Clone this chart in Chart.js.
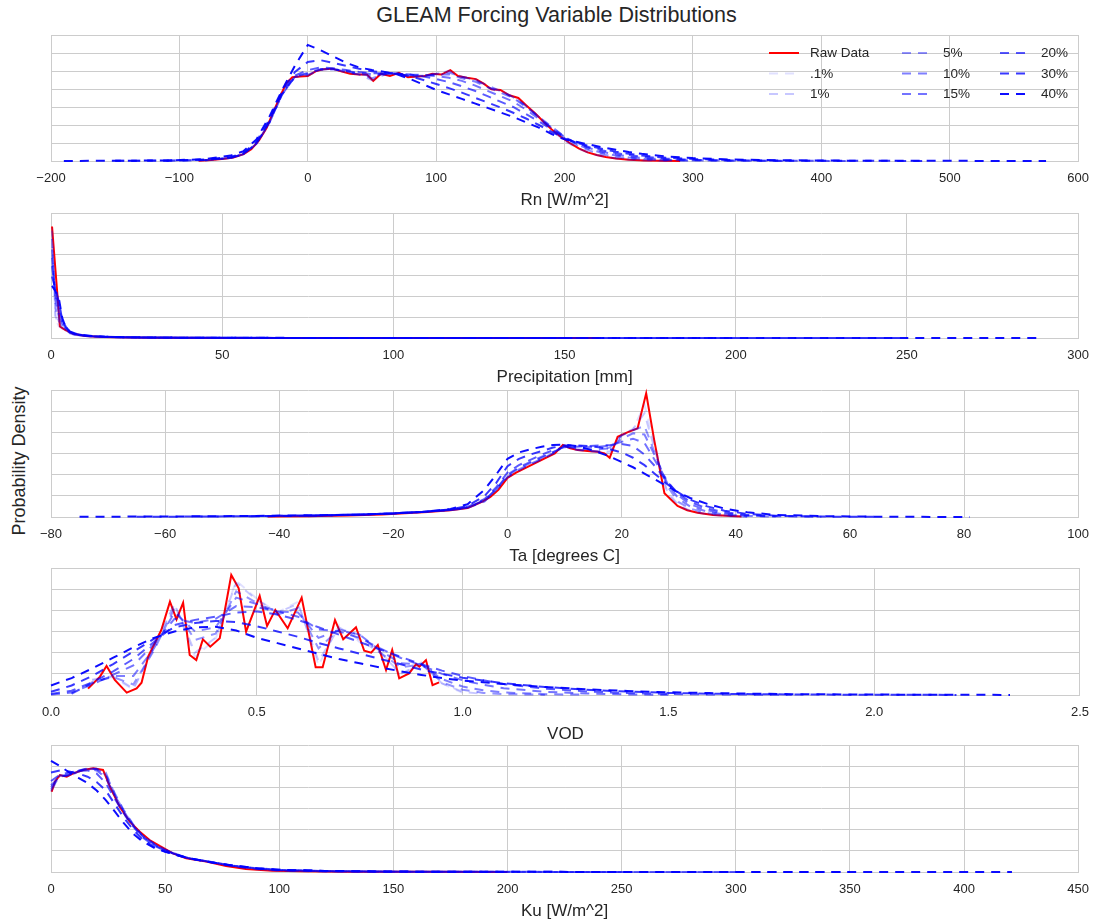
<!DOCTYPE html>
<html>
<head>
<meta charset="utf-8">
<title>GLEAM Forcing Variable Distributions</title>
<script src="https://cdn.jsdelivr.net/npm/chart.js@4/dist/chart.umd.min.js"></script>
<style>
  html, body { margin: 0; padding: 0; background: #ffffff; }
  #wrap { position: relative; width: 1099px; height: 924px; overflow: hidden;
          font-family: "Liberation Sans", Arial, sans-serif; color: #262626; }
  #wrap canvas { position: absolute; left: 0; }
  #title { position: absolute; left: 0; width: 1113px; top: 2px; text-align: center;
           font-size: 21.5px; line-height: 26px; white-space: nowrap; }
  #ylab { position: absolute; left: -131px; top: 449px; width: 300px; height: 24px;
          line-height: 24px; text-align: center; font-size: 18px; white-space: nowrap;
          transform: rotate(-90deg); transform-origin: 50% 50%; }
</style>
</head>
<body>
<div id="wrap">
  <div id="title">GLEAM Forcing Variable Distributions</div>
  <div id="ylab">Probability Density</div>
</div>
<script>
// ---------------------------------------------------------------------------
// Series names (raw histogram + the perturbed versions of each forcing)
// ---------------------------------------------------------------------------
const seriesLabels = ['Raw Data', '.1%', '1%', '5%', '10%', '15%', '20%', '30%', '40%'];

// Densities below are relative probability densities (one unit = one grid step).

// --- Rn [W/m^2] ------------------------------------------------------------
const rnRawX = [-85, -75, -65, -58, -50, -44, -38, -32, -27, -22, -17, -12, -6, 0, 6, 12, 19, 26, 33, 40,
                46, 51, 57, 64, 71, 78, 85, 91, 97, 104, 111, 117, 124, 131, 137, 143, 150, 157, 164, 170,
                177, 184, 190, 197, 204, 211, 218, 225, 232, 240, 250, 262, 275, 290];
const rnRaw  = [0.02, 0.05, 0.12, 0.2, 0.38, 0.65, 1.15, 1.85, 2.7, 3.5, 4.3, 4.65, 4.7, 4.72, 4.98, 5.1, 5.13, 4.98, 4.85, 4.8,
                4.8, 4.45, 4.85, 4.72, 4.9, 4.65, 4.7, 4.72, 4.85, 4.8, 5.05, 4.72, 4.62, 4.55, 4.3, 3.98, 3.95, 3.65, 3.5, 3.1,
                2.65, 2.15, 1.75, 1.35, 1.0, 0.7, 0.48, 0.33, 0.22, 0.14, 0.07, 0.03, 0.01, 0.0];
const rnX    = [-190, -150, -110, -80, -60, -50, -40, -30, -20, -10,
                0, 10, 20, 30, 40, 50, 60, 70, 80, 90, 100, 110, 120, 130, 140, 150, 160, 170, 180, 190,
                200, 210, 220, 230, 240, 250, 260, 280, 300, 330, 370, 420, 480, 530, 575];
const rnP01  = [null, null, null, 0.03, 0.17, 0.38, 0.95, 2.1, 3.7, 4.68,
                4.73, 5.08, 5.12, 4.9, 4.8, 4.48, 4.8, 4.9, 4.66, 4.72, 4.82, 5.02, 4.68, 4.56, 4.08, 3.94, 3.55, 3.1, 2.4, 1.72,
                1.12, 0.7, 0.4, 0.24, 0.14, 0.07, 0.03, 0.01, null, null, null, null, null, null, null];
const rnP1   = [null, null, null, 0.03, 0.17, 0.38, 0.95, 2.1, 3.7, 4.68,
                4.75, 5.08, 5.12, 4.92, 4.8, 4.5, 4.8, 4.88, 4.68, 4.72, 4.82, 5.0, 4.68, 4.55, 4.1, 3.92, 3.55, 3.08, 2.4, 1.72,
                1.15, 0.72, 0.43, 0.26, 0.15, 0.08, 0.04, 0.01, null, null, null, null, null, null, null];
const rnP5   = [null, null, null, 0.04, 0.17, 0.38, 0.95, 2.1, 3.7, 4.68,
                4.8, 5.08, 5.12, 4.95, 4.82, 4.6, 4.82, 4.85, 4.72, 4.75, 4.85, 4.92, 4.68, 4.5, 4.2, 3.88, 3.55, 3.05, 2.45, 1.82,
                1.28, 0.85, 0.56, 0.36, 0.22, 0.13, 0.08, 0.03, 0.01, null, null, null, null, null, null];
const rnP10  = [null, null, 0.02, 0.05, 0.17, 0.38, 0.96, 2.12, 3.7, 4.68,
                4.85, 5.08, 5.1, 4.98, 4.85, 4.7, 4.85, 4.85, 4.75, 4.76, 4.8, 4.82, 4.6, 4.42, 4.1, 3.8, 3.5, 3.0, 2.45, 1.9,
                1.35, 0.92, 0.64, 0.44, 0.3, 0.2, 0.13, 0.06, 0.03, 0.01, null, null, null, null, null];
const rnP15  = [null, null, 0.02, 0.05, 0.17, 0.4, 0.98, 2.15, 3.7, 4.7,
                4.9, 5.1, 5.1, 5.0, 4.9, 4.82, 4.85, 4.85, 4.8, 4.78, 4.72, 4.62, 4.45, 4.2, 3.9, 3.6, 3.3, 2.85, 2.35, 1.85,
                1.35, 0.95, 0.7, 0.5, 0.36, 0.25, 0.17, 0.08, 0.04, 0.015, 0.005, null, null, null, null];
const rnP20  = [null, 0.01, 0.02, 0.06, 0.19, 0.41, 1.0, 2.2, 3.75, 4.75,
                5.05, 5.2, 5.15, 5.05, 4.95, 4.88, 4.88, 4.85, 4.8, 4.7, 4.55, 4.38, 4.15, 3.9, 3.6, 3.3, 3.0, 2.6, 2.2, 1.75,
                1.3, 0.98, 0.75, 0.58, 0.44, 0.33, 0.24, 0.13, 0.07, 0.03, 0.01, 0.005, null, null, null];
const rnP30  = [null, 0.01, 0.03, 0.08, 0.22, 0.45, 1.08, 2.3, 3.85, 4.95,
                5.5, 5.6, 5.45, 5.28, 5.12, 4.98, 4.92, 4.85, 4.7, 4.5, 4.28, 4.05, 3.8, 3.52, 3.25, 2.98, 2.68, 2.36, 2.0, 1.62,
                1.25, 1.0, 0.82, 0.66, 0.52, 0.4, 0.3, 0.18, 0.11, 0.05, 0.02, 0.01, 0.005, null, null];
const rnP40  = [0.005, 0.01, 0.03, 0.1, 0.3, 0.55, 1.2, 2.45, 3.95, 5.3,
                6.45, 6.15, 5.8, 5.45, 5.2, 5.05, 4.95, 4.8, 4.55, 4.25, 3.95, 3.7, 3.45, 3.2, 2.95, 2.7, 2.45, 2.15, 1.85, 1.5,
                1.2, 1.05, 0.9, 0.75, 0.62, 0.5, 0.4, 0.25, 0.16, 0.08, 0.04, 0.02, 0.01, 0.006, 0.004];

// --- Precipitation [mm] ------------------------------------------------------
const prRawX = [0.3, 2.6, 4, 6.5, 10, 15, 20, 30, 50, 80, 120, 160];
const prRaw  = [5.35, 0.55, 0.4, 0.2, 0.1, 0.05, 0.03, 0.015, 0.006, 0.003, 0.002, 0.001];
const prX    = [0.3, 1.3, 2.3, 3.3, 4.3, 5.5, 7, 9, 12, 16, 20, 25, 30, 40, 50, 70, 100, 150, 200, 250, 288];
const prP01  = [5.3, 0.9, 0.56, 0.44, 0.34, 0.21, 0.145, 0.1, 0.07, 0.047, 0.031, 0.021, 0.014, 0.007, 0.004, 0.002, null, null, null, null, null];
const prP1   = [5.15, 1.05, 0.62, 0.5, 0.36, 0.22, 0.15, 0.105, 0.072, 0.048, 0.032, 0.022, 0.015, 0.008, 0.004, 0.002, 0.001, null, null, null, null];
const prP5   = [4.75, 1.45, 0.8, 0.6, 0.4, 0.24, 0.16, 0.11, 0.075, 0.05, 0.034, 0.024, 0.016, 0.009, 0.005, 0.003, 0.001, null, null, null, null];
const prP10  = [4.25, 1.85, 1.0, 0.66, 0.44, 0.26, 0.17, 0.115, 0.078, 0.052, 0.036, 0.026, 0.018, 0.01, 0.006, 0.003, 0.002, 0.001, null, null, null];
const prP15  = [3.85, 2.05, 1.2, 0.72, 0.48, 0.27, 0.18, 0.12, 0.08, 0.054, 0.038, 0.027, 0.019, 0.011, 0.007, 0.004, 0.002, 0.001, null, null, null];
const prP20  = [3.45, 2.2, 1.45, 0.78, 0.52, 0.28, 0.19, 0.13, 0.085, 0.056, 0.04, 0.028, 0.02, 0.012, 0.008, 0.005, 0.003, 0.002, 0.001, null, null];
const prP30  = [2.95, 2.35, 1.75, 0.85, 0.55, 0.3, 0.2, 0.14, 0.09, 0.06, 0.042, 0.03, 0.022, 0.014, 0.009, 0.005, 0.003, 0.002, 0.001, 0.001, null];
const prP40  = [2.5, 2.25, 1.9, 0.95, 0.5, 0.32, 0.22, 0.15, 0.1, 0.065, 0.045, 0.032, 0.024, 0.015, 0.01, 0.006, 0.004, 0.002, 0.001, 0.001, 0.001];

// --- Ta [degrees C] ----------------------------------------------------------
const taRawX = [-42, -35, -28, -22, -18, -14, -10, -7, -4.5, -3, -1.6, 0, 1.5, 3, 4.5, 6, 8.3, 9.7, 11, 12.3,
                14, 15.8, 17, 17.9, 19.3, 21, 22.8, 24.3, 25.7, 27.5, 29.8, 31.5, 33.3, 36, 38.5, 41];
const taRaw  = [0.02, 0.04, 0.07, 0.12, 0.18, 0.24, 0.32, 0.42, 0.72, 0.95, 1.28, 1.85, 2.1, 2.3, 2.5, 2.7, 3.0, 3.4, 3.25, 3.16,
                3.12, 3.08, 3.0, 2.8, 3.79, 4.0, 4.19, 5.84, 3.64, 1.12, 0.52, 0.32, 0.2, 0.1, 0.06, 0.02];
const taX    = [-75, -65, -55, -45, -35, -25, -20, -15, -10, -7, -4, -2,
                0, 2, 4, 6, 8, 10, 12, 14, 16, 18, 20, 22, 24, 26, 28, 30, 32,
                35, 38, 42, 47, 55, 65, 75, 81];
const taP01  = [null, null, null, null, 0.04, 0.12, 0.17, 0.24, 0.32, 0.42, 0.73, 1.28,
                1.86, 2.18, 2.5, 2.7, 3.0, 3.4, 3.17, 3.1, 3.08, 3.0, 3.85, 4.15, 5.3, 3.2, 1.1, 0.5, 0.28,
                0.12, 0.05, 0.01, null, null, null, null, null];
const taP1   = [null, null, null, null, 0.04, 0.12, 0.17, 0.24, 0.32, 0.42, 0.74, 1.28,
                1.87, 2.2, 2.5, 2.72, 3.0, 3.38, 3.18, 3.12, 3.08, 3.1, 3.9, 4.15, 4.9, 3.0, 1.2, 0.55, 0.3,
                0.13, 0.05, 0.01, null, null, null, null, null];
const taP5   = [null, null, null, null, 0.05, 0.12, 0.17, 0.24, 0.32, 0.43, 0.75, 1.3,
                1.9, 2.25, 2.5, 2.75, 3.02, 3.35, 3.2, 3.14, 3.1, 3.3, 3.85, 4.1, 4.3, 2.9, 1.45, 0.7, 0.4,
                0.18, 0.08, 0.02, null, null, null, null, null];
const taP10  = [null, null, null, 0.03, 0.06, 0.12, 0.17, 0.24, 0.33, 0.44, 0.78, 1.3,
                1.95, 2.3, 2.55, 2.8, 3.05, 3.32, 3.25, 3.2, 3.2, 3.25, 3.7, 3.95, 3.9, 2.8, 1.6, 0.85, 0.5,
                0.25, 0.12, 0.05, 0.01, null, null, null, null];
const taP15  = [null, null, null, 0.03, 0.06, 0.12, 0.17, 0.24, 0.33, 0.45, 0.8, 1.3,
                2.0, 2.35, 2.6, 2.85, 3.08, 3.3, 3.3, 3.3, 3.32, 3.38, 3.55, 3.7, 3.5, 2.6, 1.7, 1.0, 0.6,
                0.32, 0.16, 0.07, 0.02, null, null, null, null];
const taP20  = [null, null, 0.02, 0.04, 0.07, 0.12, 0.17, 0.24, 0.34, 0.48, 0.85, 1.4,
                2.1, 2.45, 2.7, 2.95, 3.15, 3.3, 3.32, 3.35, 3.38, 3.4, 3.45, 3.35, 2.95, 2.35, 1.65, 1.1, 0.72,
                0.4, 0.22, 0.1, 0.04, 0.01, null, null, null];
const taP30  = [null, 0.01, 0.02, 0.04, 0.07, 0.12, 0.17, 0.24, 0.36, 0.52, 1.0, 1.6,
                2.4, 2.75, 2.95, 3.12, 3.28, 3.38, 3.38, 3.35, 3.3, 3.2, 3.05, 2.8, 2.45, 2.0, 1.55, 1.15, 0.82,
                0.5, 0.3, 0.15, 0.06, 0.02, 0.005, null, null];
const taP40  = [0.01, 0.02, 0.03, 0.05, 0.08, 0.12, 0.17, 0.24, 0.38, 0.6, 1.3, 2.0,
                2.75, 3.05, 3.2, 3.32, 3.4, 3.42, 3.35, 3.22, 3.05, 2.85, 2.6, 2.35, 2.05, 1.75, 1.45, 1.15, 0.9,
                0.62, 0.4, 0.22, 0.1, 0.04, 0.015, 0.005, 0.003];

// --- VOD ---------------------------------------------------------------------
const vodRawX = [0.09, 0.119, 0.135, 0.155, 0.184, 0.208, 0.22, 0.236, 0.268, 0.289, 0.305, 0.321, 0.337, 0.353,
                 0.369, 0.387, 0.41, 0.438, 0.456, 0.474, 0.507, 0.525, 0.545, 0.575, 0.609, 0.643, 0.66, 0.69,
                 0.71, 0.741, 0.761, 0.778, 0.794, 0.814, 0.829, 0.846, 0.87, 0.887, 0.895, 0.911, 0.927, 0.943];
const vodRaw  = [0.3, 0.87, 1.37, 0.71, 0.11, 0.31, 0.58, 1.81, 3.07, 4.41, 3.57, 4.36, 1.89, 1.65,
                 2.63, 2.28, 2.68, 5.67, 5.04, 2.99, 4.68, 3.26, 4.02, 3.15, 4.6, 1.31, 1.31, 3.54,
                 2.63, 3.2, 2.09, 2.0, 2.36, 1.18, 2.13, 0.79, 1.02, 1.46, 1.34, 1.65, 0.47, 0.6];
const vodX    = [0, 0.05, 0.1, 0.15, 0.2, 0.25, 0.3, 0.35, 0.4, 0.45, 0.5, 0.55, 0.6, 0.65, 0.7, 0.75,
                 0.8, 0.85, 0.9, 0.95, 1.0, 1.05, 1.1, 1.2, 1.3, 1.4, 1.5, 1.6, 1.8, 2.0, 2.2, 2.33];
const vodP01  = [null, null, 0.75, 0.85, 0.25, 2.3, 4.3, 1.8, 2.65, 5.4, 4.55, 3.9, 4.4, 1.4, 3.3, 2.5,
                 2.1, 0.9, 1.55, 0.55, 0.1, null, null, null, null, null, null, null, null, null, null, null];
const vodP1   = [null, null, 0.7, 0.9, 0.3, 2.2, 4.3, 2.0, 2.7, 5.3, 4.5, 3.9, 4.3, 1.6, 3.2, 2.6,
                 2.0, 1.0, 1.5, 0.55, 0.15, 0.05, null, null, null, null, null, null, null, null, null, null];
const vodP5   = [null, 0.05, 0.6, 0.85, 0.5, 2.1, 4.1, 2.6, 2.9, 4.9, 4.35, 3.8, 4.1, 2.2, 3.1, 2.85,
                 2.0, 1.3, 1.45, 0.6, 0.25, 0.1, 0.04, 0.01, null, null, null, null, null, null, null, null];
const vodP10  = [null, 0.08, 0.55, 0.9, 0.9, 2.2, 3.9, 3.0, 3.2, 4.6, 4.3, 3.95, 3.9, 2.7, 3.05, 2.85,
                 2.1, 1.5, 1.45, 0.75, 0.4, 0.22, 0.12, 0.04, 0.015, null, null, null, null, null, null, null];
const vodP15  = [0.02, 0.12, 0.5, 0.95, 1.4, 2.4, 3.6, 3.4, 3.6, 4.2, 4.15, 3.95, 3.7, 3.1, 3.0, 2.7,
                 2.2, 1.75, 1.4, 1.0, 0.7, 0.48, 0.32, 0.15, 0.07, 0.03, 0.01, null, null, null, null, null];
const vodP20  = [0.05, 0.2, 0.6, 1.1, 1.7, 2.5, 3.3, 3.55, 3.7, 3.9, 3.95, 3.8, 3.55, 3.2, 2.85, 2.5,
                 2.15, 1.8, 1.45, 1.15, 0.9, 0.7, 0.52, 0.3, 0.17, 0.09, 0.05, 0.025, 0.01, null, null, null];
const vodP30  = [0.15, 0.45, 0.9, 1.45, 2.05, 2.65, 3.2, 3.4, 3.5, 3.45, 3.25, 3.0, 2.75, 2.45, 2.2, 1.95,
                 1.7, 1.45, 1.2, 1.0, 0.82, 0.68, 0.56, 0.38, 0.25, 0.16, 0.1, 0.06, 0.025, 0.01, 0.005, null];
const vodP40  = [0.45, 0.8, 1.25, 1.75, 2.25, 2.7, 3.0, 3.2, 3.22, 3.05, 2.7, 2.45, 2.2, 1.95, 1.7, 1.5,
                 1.3, 1.12, 0.95, 0.8, 0.68, 0.6, 0.52, 0.38, 0.27, 0.19, 0.13, 0.09, 0.04, 0.02, 0.01, 0.005];

// --- Ku [W/m^2] --------------------------------------------------------------
const kuRawX = [0.3, 1.7, 3.9, 6.9, 9.7, 14.1, 18.5, 22.8, 25.8, 30.1, 34.5, 38.9, 43.2, 47.6, 53.4, 59.2,
                68, 76.7, 85.4, 97, 110, 130, 160, 200];
const kuRaw  = [3.79, 4.27, 4.58, 4.5, 4.66, 4.82, 4.9, 4.82, 4.03, 3.08, 2.38, 1.9, 1.51, 1.23, 0.88, 0.65,
                0.49, 0.28, 0.14, 0.06, 0.03, 0.015, 0.008, 0.004];
const kuX    = [0, 4, 8, 12, 16, 20, 24, 28, 32, 36, 40, 45, 50, 55, 60, 70, 80, 90, 100, 120, 150, 200, 250, 300, 350, 421];
const kuP01  = [3.8, 4.58, 4.52, 4.73, 4.86, 4.86, 4.55, 3.5, 2.7, 2.12, 1.68, 1.34, 1.06, 0.85, 0.64, 0.48, 0.26, 0.13, 0.06, 0.025, 0.01, null, null, null, null, null];
const kuP1   = [3.82, 4.58, 4.52, 4.74, 4.87, 4.88, 4.6, 3.55, 2.75, 2.15, 1.7, 1.35, 1.06, 0.85, 0.64, 0.48, 0.26, 0.13, 0.06, 0.025, 0.01, null, null, null, null, null];
const kuP5   = [3.9, 4.55, 4.55, 4.75, 4.88, 4.88, 4.7, 3.65, 2.85, 2.22, 1.72, 1.35, 1.05, 0.84, 0.65, 0.47, 0.27, 0.15, 0.07, 0.03, 0.01, 0.003, null, null, null, null];
const kuP10  = [4.0, 4.5, 4.58, 4.78, 4.9, 4.86, 4.6, 3.7, 2.9, 2.25, 1.72, 1.32, 1.03, 0.83, 0.65, 0.47, 0.28, 0.16, 0.08, 0.035, 0.012, 0.004, null, null, null, null];
const kuP15  = [4.1, 4.5, 4.62, 4.8, 4.88, 4.8, 4.45, 3.6, 2.85, 2.2, 1.7, 1.3, 1.02, 0.83, 0.66, 0.47, 0.29, 0.17, 0.09, 0.04, 0.015, 0.005, 0.002, null, null, null];
const kuP20  = [4.3, 4.6, 4.7, 4.78, 4.8, 4.65, 4.2, 3.45, 2.75, 2.15, 1.65, 1.25, 1.0, 0.82, 0.66, 0.47, 0.3, 0.18, 0.1, 0.045, 0.018, 0.007, 0.003, 0.001, null, null];
const kuP30  = [4.7, 4.8, 4.75, 4.65, 4.5, 4.25, 3.85, 3.2, 2.55, 2.0, 1.55, 1.2, 0.97, 0.8, 0.66, 0.46, 0.3, 0.18, 0.11, 0.05, 0.02, 0.008, 0.004, 0.002, 0.001, null];
const kuP40  = [5.25, 5.0, 4.7, 4.45, 4.2, 3.85, 3.4, 2.85, 2.3, 1.8, 1.45, 1.15, 0.95, 0.8, 0.66, 0.46, 0.3, 0.18, 0.11, 0.05, 0.02, 0.008, 0.004, 0.002, 0.001, 0.001];

// ---------------------------------------------------------------------------
// Styling
// ---------------------------------------------------------------------------
const FONT = '"Liberation Sans", Arial, sans-serif';
const TEXT = '#262626';
const GRID = '#cccccc';
const RAW_COLOR = '#ff0000';
const blueAlpha = [0.12, 0.22, 0.42, 0.5, 0.55, 0.65, 0.78, 0.95];
const DASH = [9, 7];
const X_AXIS_H = 50;   // tick labels + axis title below each plot
const PAD_TOP = 6;

// Panel layout: plot top/bottom in page pixels, x range, tick spacing
const panels = [
  { title: 'Rn [W/m^2]',         min: -200, max: 600, step: 100, yMax: 7, dec: 0, top: 35,  bottom: 161,
    rawX: rnRawX, raw: rnRaw, gx: rnX, blue: [rnP01, rnP1, rnP5, rnP10, rnP15, rnP20, rnP30, rnP40] },
  { title: 'Precipitation [mm]', min: 0,    max: 300, step: 50,  yMax: 6, dec: 0, top: 213, bottom: 338,
    rawX: prRawX, raw: prRaw, gx: prX, blue: [prP01, prP1, prP5, prP10, prP15, prP20, prP30, prP40] },
  { title: 'Ta [degrees C]',     min: -80,  max: 100, step: 20,  yMax: 6, dec: 0, top: 390, bottom: 517,
    rawX: taRawX, raw: taRaw, gx: taX, blue: [taP01, taP1, taP5, taP10, taP15, taP20, taP30, taP40] },
  { title: 'VOD',                min: 0,    max: 2.5, step: 0.5, yMax: 6, dec: 1, top: 568, bottom: 695,
    rawX: vodRawX, raw: vodRaw, gx: vodX, blue: [vodP01, vodP1, vodP5, vodP10, vodP15, vodP20, vodP30, vodP40] },
  { title: 'Ku [W/m^2]',         min: 0,    max: 450, step: 50,  yMax: 6, dec: 0, top: 745, bottom: 872,
    rawX: kuRawX, raw: kuRaw, gx: kuX, blue: [kuP01, kuP1, kuP5, kuP10, kuP15, kuP20, kuP30, kuP40] }
];

const PLOT_LEFT = 51, PLOT_RIGHT = 1082, PAGE_W = 1099;

function pairs(xs, ys) {
  const out = [];
  const n = Math.min(xs.length, ys.length);
  for (let i = 0; i < n; i++) {
    if (ys[i] !== null && ys[i] !== undefined) out.push({ x: xs[i], y: ys[i] });
  }
  return out;
}

// Legend laid out in three columns inside the first plot
const columnLegend = {
  id: 'columnLegend',
  afterDraw(chart, args, opts) {
    if (!opts || !opts.columns) return;
    const ctx = chart.ctx;
    ctx.save();
    ctx.font = opts.fontSize + 'px ' + FONT;
    ctx.fillStyle = TEXT;
    ctx.textBaseline = 'middle';
    ctx.textAlign = 'left';
    opts.columns.forEach((col, ci) => {
      col.forEach((label, ri) => {
        const ds = chart.data.datasets.find(d => d.label === label);
        if (!ds) return;
        const x = opts.colX[ci];
        const y = opts.rowY[ri] - opts.canvasTop;
        ctx.save();
        ctx.strokeStyle = ds.borderColor;
        ctx.lineWidth = ds.borderWidth;
        ctx.setLineDash(ds.borderDash || []);
        ctx.lineCap = 'butt';
        ctx.beginPath();
        ctx.moveTo(x, y);
        ctx.lineTo(x + opts.handle, y);
        ctx.stroke();
        ctx.restore();
        ctx.fillText(label, x + opts.handle + opts.gap, y + 0.5);
      });
    });
    ctx.restore();
  }
};

const wrap = document.getElementById('wrap');

panels.forEach((p, idx) => {
  const canvasTop = p.top - PAD_TOP;
  const h = (p.bottom - p.top) + PAD_TOP + X_AXIS_H;
  const cv = document.createElement('canvas');
  cv.width = PAGE_W;
  cv.height = h;
  cv.style.top = canvasTop + 'px';
  cv.style.width = PAGE_W + 'px';
  cv.style.height = h + 'px';
  wrap.appendChild(cv);

  const datasets = [{
    label: seriesLabels[0],
    data: pairs(p.rawX, p.raw),
    borderColor: RAW_COLOR,
    borderWidth: 2,
    order: 9
  }];
  p.blue.forEach((ys, i) => {
    datasets.push({
      label: seriesLabels[i + 1],
      data: pairs(p.gx, ys),
      borderColor: 'rgba(0,0,255,' + blueAlpha[i] + ')',
      borderWidth: 2,
      borderDash: DASH,
      order: 8 - i
    });
  });

  const fmt = v => {
    const s = p.dec ? Number(v).toFixed(p.dec) : String(Math.round(v));
    return s.replace('-', '\u2212');
  };

  const cfg = {
    type: 'scatter',
    data: { datasets },
    options: {
      responsive: false,
      animation: false,
      events: [],
      layout: { padding: { left: PLOT_LEFT, right: PAGE_W - PLOT_RIGHT, top: PAD_TOP, bottom: 0 } },
      datasets: { scatter: { showLine: true, pointRadius: 0, pointHoverRadius: 0, tension: 0, clip: false } },
      plugins: {
        legend: { display: false },
        tooltip: { enabled: false },
        columnLegend: idx === 0 ? {
          columns: [seriesLabels.slice(0, 3), seriesLabels.slice(3, 6), seriesLabels.slice(6, 9)],
          colX: [769, 902, 1000],
          rowY: [53, 73.5, 94],
          canvasTop: canvasTop,
          handle: 30,
          gap: 11,
          fontSize: 13.5
        } : {}
      },
      scales: {
        x: {
          type: 'linear',
          min: p.min, max: p.max,
          grid: { color: GRID, lineWidth: 1, drawTicks: false },
          border: { display: true, color: GRID, width: 1 },
          ticks: { stepSize: p.step, callback: fmt, color: TEXT, padding: 10,
                   font: { family: FONT, size: 13 }, maxRotation: 0, autoSkip: false },
          title: { display: true, text: p.title, color: TEXT, padding: { top: 0, bottom: 0 },
                   font: { family: FONT, size: 17 } },
          afterFit: s => { s.height = X_AXIS_H; }
        },
        y: {
          min: 0, max: p.yMax,
          grid: { color: GRID, lineWidth: 1, drawTicks: false },
          border: { display: true, color: GRID, width: 1 },
          ticks: { display: false, stepSize: 1 },
          afterFit: s => { s.width = 0; }
        }
      }
    },
    plugins: idx === 0 ? [columnLegend] : []
  };
  new Chart(cv.getContext('2d'), cfg);
});
</script>
</body>
</html>
